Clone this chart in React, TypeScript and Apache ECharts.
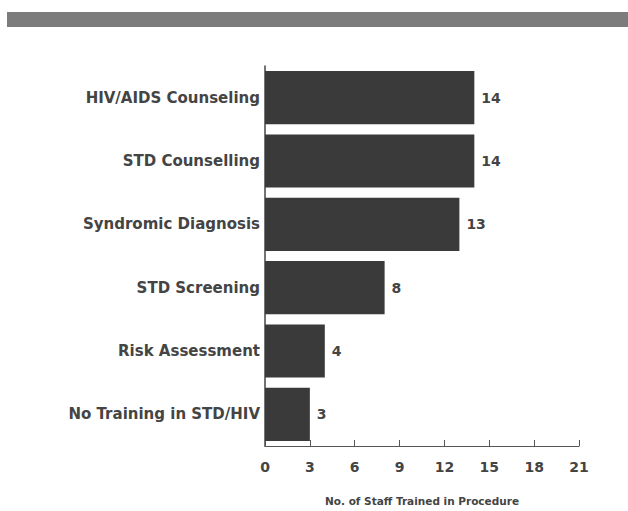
import React, { useEffect, useRef } from "react";
import * as echarts from "echarts";

const categories = [
  "HIV/AIDS Counseling",
  "STD Counselling",
  "Syndromic Diagnosis",
  "STD Screening",
  "Risk Assessment",
  "No Training in STD/HIV",
];
const values = [14, 14, 13, 8, 4, 3];
const xTicks = [0, 3, 6, 9, 12, 15, 18, 21];
const xAxisName = "No. of Staff Trained in Procedure";

export default function App() {
  const ref = useRef<HTMLDivElement>(null);
  useEffect(() => {
    document.body.style.margin = "0";
    const chart = echarts.init(ref.current!, undefined, { renderer: "svg" });
    const font = "DejaVu Sans";
    chart.setOption({
      animation: false,
      backgroundColor: "#ffffff",
      graphic: [
        {
          type: "rect",
          shape: { x: 7, y: 12, width: 621, height: 15 },
          style: { fill: "#7c7c7c" },
        },
      ],
      grid: { left: 265, right: 49, top: 66, bottom: 60, containLabel: false },
      xAxis: {
        type: "value",
        min: xTicks[0],
        max: xTicks[xTicks.length - 1],
        interval: 3,
        name: xAxisName,
        nameLocation: "middle",
        nameGap: 49,
        nameTextStyle: { fontFamily: font, fontWeight: "bold", fontSize: 10.5, color: "#444" },
        axisLine: { show: true, lineStyle: { color: "#555", width: 1 } },
        axisTick: { show: true, inside: true, length: 6, lineStyle: { color: "#555" } },
        axisLabel: { fontFamily: font, fontWeight: "bold", fontSize: 14, color: "#444", margin: 14 },
        splitLine: { show: false },
      },
      yAxis: {
        type: "category",
        data: categories,
        inverse: true,
        axisLine: { show: true, lineStyle: { color: "#444", width: 1.5 } },
        axisTick: { show: false },
        axisLabel: { fontFamily: font, fontWeight: "bold", fontSize: 15, color: "#444", margin: 5 },
      },
      series: [
        {
          type: "bar",
          data: values,
          barCategoryGap: "16%",
          itemStyle: { color: "#3a3a3a" },
          label: {
            show: true,
            position: "right",
            distance: 7,
            fontFamily: font,
            fontWeight: "bold",
            fontSize: 14,
            color: "#444",
          },
        },
      ],
    });
    return () => chart.dispose();
  }, []);
  return <div ref={ref} style={{ width: 628, height: 511 }} />;
}
